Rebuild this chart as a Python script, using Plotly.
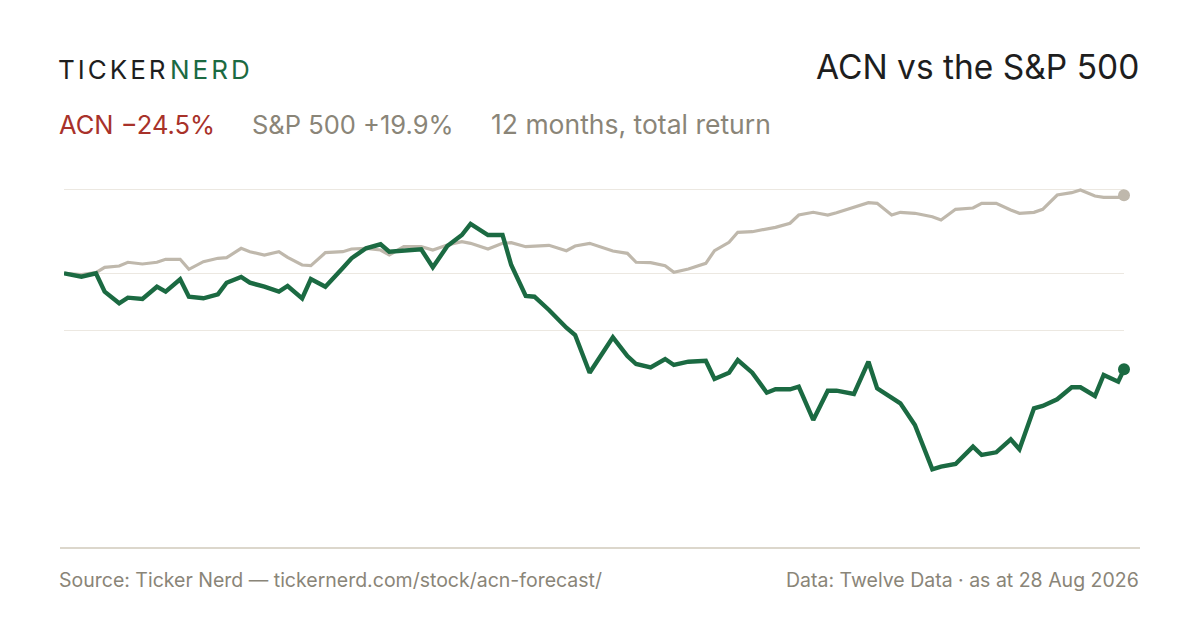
import pandas as pd
import plotly.graph_objects as go

# 12 months of closes, sampled every 3rd trading day (plus the last day)
START = "2025-08-28"
END = "2026-08-28"
NYSE_HOLIDAYS = ["2025-09-01", "2025-11-27", "2025-12-25", "2026-01-01", "2026-01-19",
                 "2026-02-16", "2026-04-03", "2026-05-25", "2026-06-19", "2026-07-03"]

# cumulative total return, %
acn = [0.0, -0.87, 0.0, -4.69, -7.65, -6.22, -6.56, -3.42, -4.69, -1.53,
       -5.97, -6.38, -5.36, -2.40, -0.94, -2.40, -3.42, -4.69, -3.24, -6.38,
       -1.45, -3.42, 1.35, 3.83, 6.38, 7.40, 5.51, 5.77, 6.12, 1.53,
       6.96, 9.77, 12.58, 9.77, 9.77, 2.12, -5.79, -5.97, -9.36, -13.88,
       -15.74, -25.36, -19.57, -16.33, -21.10, -23.14, -23.98, -21.86, -23.39, -22.55,
       -22.30, -26.96, -25.36, -22.12, -25.36, -30.46, -29.59, -29.59, -28.93, -37.42,
       -29.95, -29.95, -30.79, -22.55, -29.34, -31.73, -33.16, -38.70, -50.0, -49.34,
       -48.65, -44.23, -46.35, -45.66, -42.35, -44.90, -34.44, -33.85, -32.14, -29.08,
       -29.08, -31.30, -25.94, -27.65, -24.5]
spx = [0.0, -0.31, 0.15, 1.53, 1.86, 2.81, 2.37, 2.81, 3.57, 3.57,
       1.02, 2.96, 3.83, 3.98, 6.38, 5.51, 4.67, 5.51, 4.08, 2.12,
       1.94, 5.26, 5.51, 6.20, 6.38, 5.94, 4.67, 6.79, 6.79, 5.94,
       7.22, 8.06, 7.65, 6.20, 7.65, 7.81, 6.79, 6.89, 7.14, 5.77,
       6.96, 7.65, 6.53, 5.69, 5.10, 2.81, 2.70, 1.94, 0.26, 1.10,
       2.55, 5.77, 7.91, 10.46, 10.61, 11.22, 11.73, 12.76, 14.87, 15.56,
       14.87, 15.46, 16.84, 18.01, 17.86, 14.87, 15.56, 15.31, 14.44, 13.60,
       16.33, 16.66, 17.86, 17.86, 16.15, 15.31, 15.56, 16.33, 19.97, 20.56,
       21.25, 19.72, 19.39, 19.39, 19.9]
grid_vals = [21.4, 0, -14.5]

days = pd.bdate_range(START, END, freq="C", holidays=NYSE_HOLIDAYS)
dates = list(days[::3]) + [days[-1]]

GREEN = "#1b6a42"
SAND = "#bfb8ac"
RED = "#a8322a"
MUTED = "#8a8578"
FONT = "Inter"

# the page puts the figure 8px in from the top-left corner
OFF = 8
W, H = 1200 - OFF, 630 - OFF
# plot box in screen pixels, used to place the text around it
L, R, T, B = 64, 1124, 170, 520


def px(x):
    return (x - L) / (R - L)


def py(y):
    return (B - y) / (B - T)


fig = go.Figure()
fig.add_trace(go.Scatter(x=dates, y=spx, mode="lines", line=dict(color=SAND, width=3.2),
                         cliponaxis=False, hoverinfo="skip"))
fig.add_trace(go.Scatter(x=dates, y=acn, mode="lines", line=dict(color=GREEN, width=4.4),
                         cliponaxis=False, hoverinfo="skip"))
fig.add_trace(go.Scatter(x=[dates[-1]], y=[spx[-1]], mode="markers",
                         marker=dict(color=SAND, size=12), cliponaxis=False, hoverinfo="skip"))
fig.add_trace(go.Scatter(x=[dates[-1]], y=[acn[-1]], mode="markers",
                         marker=dict(color=GREEN, size=12), cliponaxis=False, hoverinfo="skip"))


def label(text, x, y, size, color, anchor="left"):
    fig.add_annotation(text=text, x=px(x), y=py(y), xref="paper", yref="paper",
                       xanchor=anchor, yanchor="middle", showarrow=False,
                       font=dict(family=FONT, size=size, color=color))


label('<span style="letter-spacing:3px">TICKER</span>', 56, 70, 26, "#1e1e1e")
label('<span style="letter-spacing:3px">NERD</span>', 168, 70, 26, GREEN)
label("ACN vs the S&amp;P 500", 1141, 67, 33.5, "#1e1e1e", anchor="right")
label("ACN −24.5%", 57, 124, 25.5, RED)
label("S&amp;P 500 +19.9%", 250, 124, 25.5, MUTED)
label("12 months, total return", 489, 124, 26.5, MUTED)
label("Source: Ticker Nerd — tickernerd.com/stock/acn-forecast/", 57, 580, 19.5, MUTED)
label("Data: Twelve Data · as at 28 Aug 2026", 1141, 580, 19.5, MUTED, anchor="right")

fig.add_shape(type="line", xref="paper", yref="paper", x0=px(60), x1=px(1140),
              y0=py(548), y1=py(548), line=dict(color="#dcd7cc", width=2))

fig.update_layout(
    width=W, height=H,
    margin=dict(l=L - OFF, r=W - (R - OFF), t=T - OFF, b=H - (B - OFF)),
    paper_bgcolor="white", plot_bgcolor="white",
    showlegend=False,
    xaxis=dict(range=[START, END], showgrid=False, showticklabels=False,
               zeroline=False, showline=False, ticks=""),
    yaxis=dict(range=[(273.3 - B) / 3.92, (273.3 - T) / 3.92], tickvals=grid_vals,
               showticklabels=False, showgrid=True, gridcolor="#ece8e1", gridwidth=1,
               zeroline=False, showline=False, ticks=""),
)

fig.write_html("out.html")
